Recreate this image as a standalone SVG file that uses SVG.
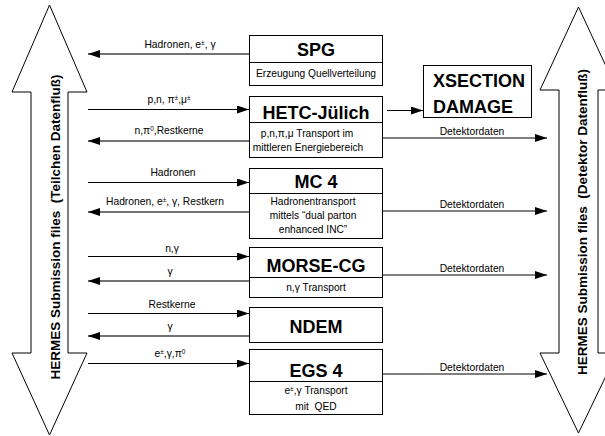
<svg xmlns="http://www.w3.org/2000/svg" width="605" height="436" viewBox="0 0 605 436">
  <defs>
    <marker id="head" viewBox="0 0 12 8" refX="12" refY="4" markerWidth="12" markerHeight="8" markerUnits="userSpaceOnUse" orient="auto">
      <path d="M0,0 L12,4 L0,8 Z" fill="#000"/>
    </marker>
    <style>
      .big { fill: #fff; stroke: #000; stroke-width: 1; }
      .box { fill: #fff; stroke: #000; stroke-width: 1; }
      .div { stroke: #000; stroke-width: 1; }
      .fwd { stroke: #000; stroke-width: 1; fill: none; marker-end: url(#head); }
      .back { stroke: #444; stroke-width: 1.3; fill: none; marker-end: url(#head); }
      .title { font-family: "Liberation Sans", Arial, sans-serif; font-weight: bold; font-size: 18px; text-anchor: middle; fill: #000; }
      .sub { font-family: "Liberation Sans", Arial, sans-serif; font-size: 10.2px; text-anchor: middle; fill: #000; }
      .lbl { font-family: "Liberation Sans", Arial, sans-serif; font-size: 10.3px; text-anchor: middle; fill: #000; }
      .side { font-family: "Liberation Sans", Arial, sans-serif; font-weight: bold; font-size: 13.5px; text-anchor: middle; fill: #000; }
      .sup { font-size: 6.5px; }
    </style>
  </defs>

  <!-- left double arrow: particle data flow -->
  <g id="left-bus">
    <polygon class="big" points="49.5,5 87,92 68,92 68,353 87,353 49.5,435 12,353 31,353 31,92 12,92"/>
    <text class="side" xml:space="preserve" transform="translate(60,227) rotate(-90)">HERMES Submission files  (Teilchen Datenfluß)</text>
  </g>

  <!-- right double arrow: detector data flow -->
  <g id="right-bus">
    <polygon class="big" points="578.5,7 617,90 598,90 598,353 617,353 578.5,433 540,353 559,353 559,90 540,90"/>
    <text class="side" xml:space="preserve" transform="translate(587,222) rotate(-90)">HERMES Submission files  (Detektor Datenfluß)</text>
  </g>

  <g id="spg">
    <rect class="box" x="249.5" y="35.5" width="133" height="50"/>
    <line class="div" x1="249.5" y1="62.5" x2="382.5" y2="62.5"/>
    <text class="title" x="316" y="56">SPG</text>
    <text class="sub" x="316" y="77">Erzeugung Quellverteilung</text>
  </g>

  <g id="hetc">
    <rect class="box" x="249.5" y="96.5" width="133" height="61"/>
    <line class="div" x1="249.5" y1="122.5" x2="382.5" y2="122.5"/>
    <text class="title" x="316" y="119">HETC-Jülich</text>
    <text class="sub" x="307" y="137">p,n,π,μ Transport im</text>
    <text class="sub" x="308" y="151">mittleren Energiebereich</text>
  </g>

  <g id="xsection">
    <rect class="box" x="423.5" y="65.5" width="108" height="52"/>
    <text class="title" x="433" y="87" style="text-anchor:start">XSECTION</text>
    <text class="title" x="433" y="113" style="text-anchor:start">DAMAGE</text>
  </g>

  <g id="mc4">
    <rect class="box" x="249.5" y="168.5" width="133" height="70"/>
    <line class="div" x1="249.5" y1="193.5" x2="382.5" y2="193.5"/>
    <text class="title" x="316" y="188">MC 4</text>
    <text class="sub" x="313" y="205">Hadronentransport</text>
    <text class="sub" x="313" y="219">mittels “dual parton</text>
    <text class="sub" x="313" y="233">enhanced INC”</text>
  </g>

  <g id="morse">
    <rect class="box" x="249.5" y="247.5" width="133" height="50"/>
    <line class="div" x1="249.5" y1="277.5" x2="382.5" y2="277.5"/>
    <text class="title" x="316" y="272">MORSE-CG</text>
    <text class="sub" x="316" y="291">n,γ Transport</text>
  </g>

  <g id="ndem">
    <rect class="box" x="249.5" y="307.5" width="133" height="35"/>
    <text class="title" x="316" y="333">NDEM</text>
  </g>

  <g id="egs4">
    <rect class="box" x="249.5" y="349.5" width="133" height="65"/>
    <line class="div" x1="249.5" y1="381.5" x2="382.5" y2="381.5"/>
    <text class="title" x="316" y="377">EGS 4</text>
    <text class="sub" x="316" y="394">e<tspan class="sup" dy="-3.5">±</tspan><tspan dy="3.5">,γ Transport</tspan></text>
    <text class="sub" xml:space="preserve" x="316" y="410">mit  QED</text>
  </g>

  <!-- connectors -->
  <g id="connectors">
    <!-- back to the particle bus -->
    <line class="back" x1="249" y1="54" x2="88" y2="54"/>
    <line class="back" x1="249" y1="141" x2="88" y2="141"/>
    <line class="back" x1="249" y1="212" x2="88" y2="212"/>
    <line class="back" x1="249" y1="281" x2="88" y2="281"/>
    <line class="back" x1="249" y1="336" x2="88" y2="336"/>
    <!-- from the particle bus into the codes -->
    <line class="fwd" x1="88" y1="109.5" x2="249" y2="109.5"/>
    <line class="fwd" x1="88" y1="182.5" x2="249" y2="182.5"/>
    <line class="fwd" x1="88" y1="256.5" x2="249" y2="256.5"/>
    <line class="fwd" x1="88" y1="313.5" x2="249" y2="313.5"/>
    <line class="fwd" x1="88" y1="363.5" x2="249" y2="363.5"/>
    <!-- HETC to XSECTION -->
    <line class="fwd" x1="387" y1="110.5" x2="423" y2="110.5"/>
    <!-- detector data -->
    <line class="fwd" x1="383" y1="138" x2="547" y2="138"/>
    <line class="fwd" x1="383" y1="211" x2="547" y2="211"/>
    <line class="fwd" x1="383" y1="275" x2="547" y2="275"/>
    <line class="fwd" x1="383" y1="374" x2="547" y2="374"/>

    <text class="lbl" x="180" y="48">Hadronen, e<tspan class="sup" dy="-3.5">±</tspan><tspan dy="3.5">, γ</tspan></text>
    <text class="lbl" x="169" y="103">p,n, π<tspan class="sup" dy="-3.5">±</tspan><tspan dy="3.5">,μ</tspan><tspan class="sup" dy="-3.5">±</tspan></text>
    <text class="lbl" x="169" y="134">n,π<tspan class="sup" dy="-3.5">0</tspan><tspan dy="3.5">,Restkerne</tspan></text>
    <text class="lbl" x="173" y="176">Hadronen</text>
    <text class="lbl" x="165" y="205">Hadronen, e<tspan class="sup" dy="-3.5">±</tspan><tspan dy="3.5">, γ, Restkern</tspan></text>
    <text class="lbl" x="172" y="252">n,γ</text>
    <text class="lbl" x="170" y="275">γ</text>
    <text class="lbl" x="172" y="308">Restkerne</text>
    <text class="lbl" x="170" y="330">γ</text>
    <text class="lbl" x="170" y="357">e<tspan class="sup" dy="-3.5">±</tspan><tspan dy="3.5">,γ,π</tspan><tspan class="sup" dy="-3.5">0</tspan></text>

    <text class="lbl" x="472" y="135">Detektordaten</text>
    <text class="lbl" x="472" y="208">Detektordaten</text>
    <text class="lbl" x="472" y="272">Detektordaten</text>
    <text class="lbl" x="472" y="371">Detektordaten</text>
  </g>
</svg>
